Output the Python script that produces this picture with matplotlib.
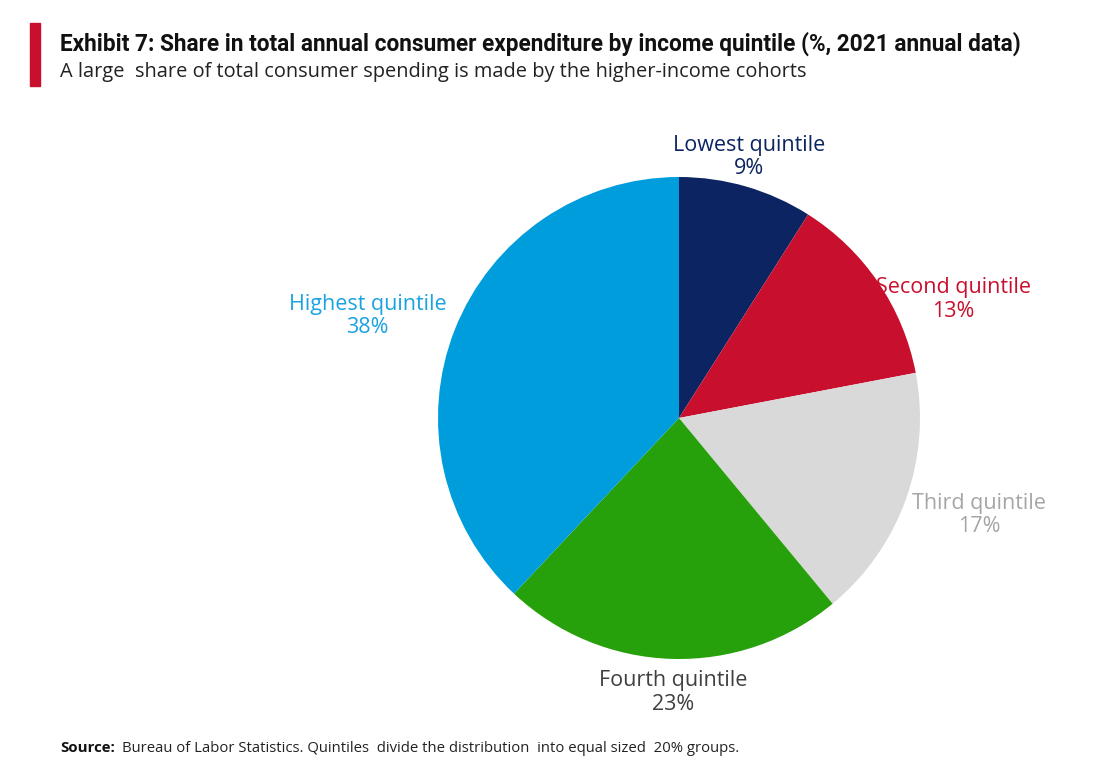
import numpy as np
import matplotlib.pyplot as plt
from matplotlib.patches import Rectangle

# data
labels = ["Lowest quintile", "Second quintile", "Third quintile", "Fourth quintile", "Highest quintile"]
shares = [9, 13, 17, 23, 38]
wedge_colors = ["#0c2461", "#c8102e", "#d9d9d9", "#27a10b", "#009ddc"]
text_colors = ["#0c2461", "#c8102e", "#a6a6a6", "#404040", "#1aa3e0"]
# label offsets (angle in deg, distance in radii) around the pie
label_pos = [(75, 1.12), (23.4, 1.24), (-17.9, 1.31), (-91.2, 1.14), (161.9, 1.36)]

title = "Exhibit 7: Share in total annual consumer expenditure by income quintile (%, 2021 annual data)"
subtitle = "A large  share of total consumer spending is made by the higher-income cohorts"
source = "Bureau of Labor Statistics. Quintiles  divide the distribution  into equal sized  20% groups."

plt.rcParams['font.family'] = ['Open Sans', 'DejaVu Sans']

W, H = 1100, 769
fig = plt.figure(figsize=(W / 100, H / 100), dpi=100)

# pie axes: center (679, 418) px, radius 241 px
cx, cy, r = 679, 418, 241
ax = fig.add_axes([(cx - r) / W, (H - cy - r) / H, 2 * r / W, 2 * r / H])
ax.pie(shares, colors=wedge_colors, startangle=90, counterclock=False,
       wedgeprops=dict(linewidth=0))
ax.set_xlim(-1, 1)
ax.set_ylim(-1, 1)
ax.set_aspect("equal")
ax.axis("off")

for lab, val, col, (ang, dist) in zip(labels, shares, text_colors, label_pos):
    a = np.deg2rad(ang)
    ax.text(dist * np.cos(a), dist * np.sin(a), f"{lab}\n{val}%", color=col,
            ha="center", va="center", fontsize=15.5, linespacing=1.15,
            clip_on=False)

# header
fig.patches.append(Rectangle((30 / W, 1 - 86 / H), 10 / W, 63 / H,
                             transform=fig.transFigure, color="#c8102e"))
fig.text(60 / W, 1 - 44 / H, title, fontsize=16.3, fontweight="bold",
         va="center", ha="left", color="#111111", family=['Roboto', 'DejaVu Sans'])
fig.text(60 / W, 1 - 72 / H, subtitle, fontsize=14.4, va="center", ha="left",
         color="#222222")

# footer
fig.text(60 / W, 1 - 748 / H, "Source:", fontsize=10.8, fontweight="bold",
         va="center", ha="left", color="#111111")
fig.text(122 / W, 1 - 748 / H, source, fontsize=10.7, va="center", ha="left",
         color="#222222")

fig.savefig("out.png", dpi=100, facecolor="white")
